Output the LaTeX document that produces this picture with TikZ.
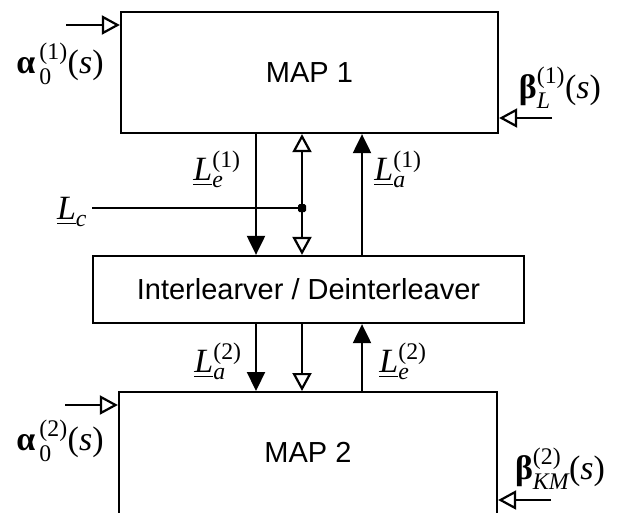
\documentclass[tikz,border=0pt]{standalone}
\usepackage{amsmath}
\usepackage{fontspec}
\setmainfont{Liberation Sans}
\newfontfamily\tms{Liberation Serif}
\usetikzlibrary{arrows.meta}
\newcommand\tx[1]{\text{\tms #1}}
\newcommand\ti[1]{\text{\tms\itshape #1}}
\newcommand\ULab[2]{\underline{\ti{L}}_{\ti{#1}}^{\tx{(#2)}}}
\tikzset{
  blk/.style={draw, line width=2.3pt, inner sep=0pt, font=\fontsize{29}{35}\selectfont},
  txt/.style={inner sep=0pt, font=\fontsize{29}{35}\selectfont},
  mlab/.style={inner sep=0pt, font=\fontsize{34}{40}\selectfont},
  ln/.style={line width=2.2pt},
  farr/.style={line width=2.2pt, -{Triangle[length=19pt,width=18pt]}},
  oarr/.style={line width=2.2pt, -{Triangle[open,length=18pt,width=19pt]}},
  darr/.style={line width=2.2pt, {Triangle[open,length=18pt,width=19pt]}-{Triangle[open,length=18pt,width=19pt]}},
}
\begin{document}
\begin{tikzpicture}[x=1pt,y=-1pt]
\useasboundingbox (0,0) rectangle (618,512);
\clip (0,0) rectangle (618,512);
% blocks
\node[blk, minimum width=377pt, minimum height=121pt] (map1) at (309.5,72.5) {MAP 1};
\node[blk, minimum width=431pt, minimum height=67pt] (inter) at (308.5,289.5) {Interlearver / Deinterleaver};
\node[blk, minimum width=378pt, minimum height=200pt, anchor=north] (map2) at (308,391) {};
\node[txt] (m2t) at (308,452.5) {MAP 2};
% x positions of vertical connectors
\coordinate (xd) at (256,0);
\coordinate (xo) at (302,0);
\coordinate (xu) at (362,0);
% between MAP1 and interleaver
\draw[farr] (map1.south -| xd) -- (inter.north -| xd);
\draw[darr] (inter.north -| xo) -- (map1.south -| xo);
\draw[farr] (inter.north -| xu) -- (map1.south -| xu);
\coordinate (lc) at (92,208);
\node[fill, rectangle, rounded corners=1.5pt, inner sep=0pt, minimum size=8pt] (jn) at (302,208) {};
\draw[ln] (lc) -- (jn);
% between interleaver and MAP2
\draw[farr] (inter.south -| xd) -- (map2.north -| xd);
\draw[oarr] (inter.south -| xo) -- (map2.north -| xo);
\draw[farr] (map2.north -| xu) -- (inter.south -| xu);
% side inputs
\coordinate (a1) at (66,25);
\draw[oarr] (a1) -- (a1 -| map1.west);
\coordinate (b1) at (552,118);
\draw[oarr] (b1) -- (b1 -| map1.east);
\coordinate (a2) at (65,405);
\draw[oarr] (a2) -- (a2 -| map2.west);
\coordinate (b2) at (551,500);
\draw[oarr] (b2) -- (b2 -| map2.east);
% labels
\node[mlab] (la1lab) at (60,64) {$\tx{\bfseries α}_{\,\tx{0}}^{\,\tx{(1)}}\tx{(}\ti{s}\tx{)}$};
\node[mlab] (lb1lab) at (560,88) {$\tx{\bfseries β}_{\ti{L}}^{\tx{(1)}}\tx{(}\ti{s}\tx{)}$};
\node[mlab] (la2lab) at (60,441) {$\tx{\bfseries α}_{\,\tx{0}}^{\,\tx{(2)}}\tx{(}\ti{s}\tx{)}$};
\node[mlab] (lb2lab) at (560,469) {$\tx{\bfseries β}_{\ti{KM}}^{\tx{(2)}}\tx{(}\ti{s}\tx{)}$};
\node[mlab] (le1) at (217,169) {$\ULab{e}{1}$};
\node[mlab] (la1) at (398,169) {$\ULab{a}{1}$};
\node[mlab] (lcl) at (72,212) {$\underline{\ti{L}}_{\ti{c}}$};
\node[mlab] (la2) at (218,361) {$\ULab{a}{2}$};
\node[mlab] (le2) at (403,361) {$\ULab{e}{2}$};
\end{tikzpicture}
\end{document}
